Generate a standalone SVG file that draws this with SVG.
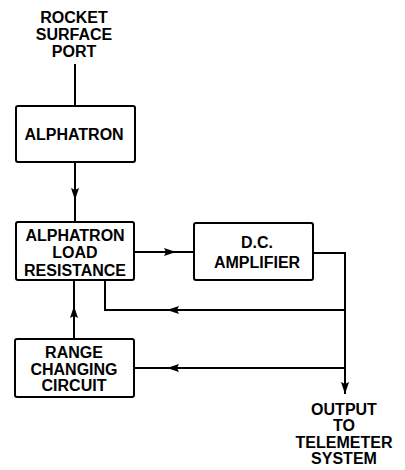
<svg xmlns="http://www.w3.org/2000/svg" width="405" height="470" viewBox="0 0 405 470">
<style>
.box{fill:#fff;stroke:#000;stroke-width:2}
.t{font-family:"Liberation Sans",Arial,sans-serif;font-weight:bold;font-size:16px;fill:#000;text-anchor:middle}
.ln{fill:none;stroke:#000;stroke-width:2}
</style>
<defs>
<marker id="ah" markerUnits="userSpaceOnUse" markerWidth="14" markerHeight="10" refX="12" refY="4" orient="auto">
<path d="M0,0 L12,4 L0,8 L2,4 z" fill="#000"/>
</marker>
</defs>
<rect width="405" height="470" fill="#fff"/>
<g id="connectors">
<line class="ln" x1="75" y1="64" x2="75" y2="106"/>
<line class="ln" x1="75" y1="162" x2="75" y2="200" marker-end="url(#ah)"/>
<line class="ln" x1="75" y1="199" x2="75" y2="222"/>
<line class="ln" x1="134" y1="252" x2="176" y2="252" marker-end="url(#ah)"/>
<line class="ln" x1="175" y1="252" x2="194" y2="252"/>
<polyline class="ln" points="313,253 345,253 345,394" marker-end="url(#ah)"/>
<polyline class="ln" points="345,310 167,310" marker-end="url(#ah)"/>
<polyline class="ln" points="168,310 105,310 105,280"/>
<line class="ln" x1="345" y1="368" x2="167" y2="368" marker-end="url(#ah)"/>
<line class="ln" x1="168" y1="368" x2="134" y2="368"/>
<line class="ln" x1="74" y1="339" x2="74" y2="306" marker-end="url(#ah)"/>
<line class="ln" x1="74" y1="307" x2="74" y2="280"/>
</g>
<g id="rocket_port">
<text class="t" x="74" y="23">ROCKET</text>
<text class="t" x="74" y="40">SURFACE</text>
<text class="t" x="74" y="57">PORT</text>
</g>
<g id="alphatron">
<rect class="box" x="16" y="106" width="119" height="56" rx="2"/>
<text class="t" x="74" y="140">ALPHATRON</text>
</g>
<g id="load_resistance">
<rect class="box" x="16" y="222" width="118" height="58" rx="2"/>
<text class="t" x="75" y="241">ALPHATRON</text>
<text class="t" x="75" y="258">LOAD</text>
<text class="t" x="75" y="276">RESISTANCE</text>
</g>
<g id="dc_amplifier">
<rect class="box" x="194" y="223" width="119" height="57" rx="2"/>
<text class="t" x="257" y="248">D.C.</text>
<text class="t" x="257" y="268">AMPLIFIER</text>
</g>
<g id="range_changing">
<rect class="box" x="15" y="339" width="119" height="58" rx="2"/>
<text class="t" x="74" y="358">RANGE</text>
<text class="t" x="74" y="375">CHANGING</text>
<text class="t" x="74" y="391">CIRCUIT</text>
</g>
<g id="output">
<text class="t" x="344" y="415">OUTPUT</text>
<text class="t" x="344" y="431">TO</text>
<text class="t" x="344" y="448">TELEMETER</text>
<text class="t" x="344" y="464">SYSTEM</text>
</g>
</svg>
